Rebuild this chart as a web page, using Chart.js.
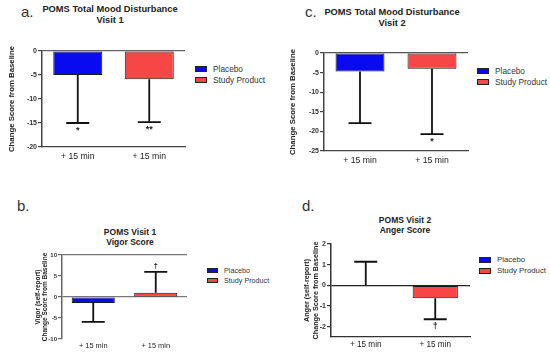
<!DOCTYPE html>
<html lang="en">
<head>
<meta charset="UTF-8" />
<title>POMS change scores</title>
<script src="https://cdn.jsdelivr.net/npm/chart.js"></script>
<style>
  body { margin: 0; width: 550px; height: 355px; background: #fff; position: relative; overflow: hidden;
         font-family: 'Liberation Sans', Arial, sans-serif; color: #222; }
  canvas { position: absolute; }
  .tag { position: absolute; font-size: 15px; line-height: 15px; color: #333; }
  .title { position: absolute; font-weight: bold; text-align: center; white-space: nowrap; color: #222; }
  .legend { position: absolute; white-space: nowrap; color: #333; }
  .legend div { display: flex; align-items: center; }
  .legend span.box { display: inline-block; border: 1px solid #222; box-sizing: border-box; margin-right: 6px; }
</style>
</head>
<body>

<div class="tag" style="left:21px; top:4px;">a.</div>
<div class="tag" style="left:305px; top:4px;">c.</div>
<div class="tag" style="left:17px; top:198px;">b.</div>
<div class="tag" style="left:302px; top:198px;">d.</div>

<div class="title" id="titleA" style="left:30px; width:160px; top:4px; font-size:9.3px; line-height:11px;"></div>
<div class="title" id="titleC" style="left:312px; width:160px; top:7px; font-size:9.3px; line-height:11px;"></div>
<div class="title" id="titleB" style="left:70px; width:120px; top:228px; font-size:8.5px; line-height:9.5px;"></div>
<div class="title" id="titleD" style="left:345px; width:120px; top:215px; font-size:8.5px; line-height:10px;"></div>

<canvas id="chartA"></canvas>
<canvas id="chartC"></canvas>
<canvas id="chartB"></canvas>
<canvas id="chartD"></canvas>

<div class="legend" id="legendA"></div>
<div class="legend" id="legendC"></div>
<div class="legend" id="legendB"></div>
<div class="legend" id="legendD"></div>

<script>
// data
const categories = ['+ 15 min', '+ 15 min'];
const seriesNames = ['Placebo', 'Study Product'];

// a. POMS Total Mood Disturbance, Visit 1
const tmdVisit1 = [-5.0, -5.9];
const tmdVisit1ErrEnd = [-15.0, -14.8];
const tmdVisit1Marks = ['*', '**'];
const tmdVisit1Ticks = [0, -5, -10, -15, -20];

// c. POMS Total Mood Disturbance, Visit 2
const tmdVisit2 = [-4.7, -4.0];
const tmdVisit2ErrEnd = [-17.9, -20.7];
const tmdVisit2Marks = ['', '*'];
const tmdVisit2Ticks = [0, -5, -10, -15, -20, -25];

// b. POMS Visit 1, Vigor Score
const vigorVisit1 = [-1.4, 1.0];
const vigorVisit1ErrEnd = [-5.9, 6.0];
const vigorVisit1Marks = ['', '\u2020'];
const vigorVisit1Ticks = [10, 5, 0, -5, -10];

// d. POMS Visit 2, Anger Score
const angerVisit2 = [0, -0.62];
const angerVisit2ErrEnd = [1.14, -1.64];
const angerVisit2Marks = ['', '\u2020'];
const angerVisit2Ticks = [2, 1, 0, -1, -2];

const seriesColors = ['#0a0af0', '#f64646'];

// one-sided error bars + significance marks
const errorBarPlugin = {
  id: 'errorBars',
  afterDatasetsDraw(chart, args, opts) {
    const { ctx } = chart;
    const y = chart.scales.y;
    ctx.save();
    ctx.strokeStyle = '#111';
    ctx.fillStyle = '#222';
    ctx.lineWidth = 1.8;
    chart.data.datasets.forEach((ds, i) => {
      const bar = chart.getDatasetMeta(i).data[i];
      if (!bar) return;
      const y0 = y.getPixelForValue(ds.data[i]);
      const y1 = y.getPixelForValue(opts.ends[i]);
      const half = opts.cap / 2;
      ctx.beginPath();
      ctx.moveTo(bar.x, y0);
      ctx.lineTo(bar.x, y1);
      ctx.moveTo(bar.x - half, y1);
      ctx.lineTo(bar.x + half, y1);
      ctx.stroke();
      const mark = opts.marks[i];
      if (mark) {
        ctx.font = 'bold ' + opts.markSize + 'px "Liberation Sans", Arial, sans-serif';
        ctx.textAlign = 'center';
        if (opts.ends[i] < ds.data[i]) {
          ctx.textBaseline = 'top';
          ctx.fillText(mark, bar.x, y1 + 3);
        } else {
          ctx.textBaseline = 'bottom';
          ctx.fillText(mark, bar.x, y1 - 2);
        }
      }
    });
    ctx.restore();
  }
};

function buildPanel(p) {
  const cv = document.getElementById(p.id);
  const box = p.canvas;
  const area = p.area;
  cv.width = box.width;
  cv.height = box.height;
  cv.style.left = box.left + 'px';
  cv.style.top = box.top + 'px';

  new Chart(cv, {
    type: 'bar',
    data: {
      labels: categories,
      datasets: seriesNames.map((name, i) => ({
        label: name,
        data: categories.map((_, j) => (j === i ? p.values[i] : null)),
        backgroundColor: seriesColors[i],
        borderColor: '#1a1a1a',
        borderWidth: 1,
        borderSkipped: false,
        grouped: false,
        barPercentage: p.barPct,
        categoryPercentage: 1
      }))
    },
    options: {
      responsive: false,
      animation: false,
      layout: {
        padding: { left: 0, top: area.top - box.top, right: box.left + box.width - area.right, bottom: 0 }
      },
      plugins: {
        legend: { display: false },
        tooltip: { enabled: false },
        errorBars: { ends: p.errEnds, marks: p.marks, cap: 23, markSize: p.markSize }
      },
      scales: {
        x: {
          grid: { display: false, drawTicks: false },
          border: { display: p.bottomLine, color: p.axisColor, width: 1.2 },
          ticks: {
            color: '#222', padding: p.xPad,
            font: { size: p.xFont, family: "'Liberation Sans', Arial, sans-serif" }
          },
          afterFit: s => { s.height = box.top + box.height - area.bottom; }
        },
        y: {
          min: p.range[0],
          max: p.range[1],
          afterBuildTicks: s => { s.ticks = p.ticks.map(v => ({ value: v })); },
          afterFit: s => { s.width = area.left - box.left; },
          grid: {
            color: c => (p.lines.includes(c.tick.value) ? p.lineColor : 'rgba(0,0,0,0)'),
            tickColor: p.axisColor,
            tickLength: 4,
            lineWidth: 1.2
          },
          border: { display: true, color: p.axisColor, width: 1.5 },
          ticks: {
            color: '#333', padding: 1,
            font: { size: p.tickFont, weight: 'bold', family: "'Liberation Sans', Arial, sans-serif" }
          },
          title: {
            display: true,
            text: p.yTitle,
            color: '#222',
            padding: { top: p.titlePad, bottom: 0 },
            font: { size: p.yTitleFont, weight: 'bold', lineHeight: p.yTitleLh, family: "'Liberation Sans', Arial, sans-serif" }
          }
        }
      }
    },
    plugins: [errorBarPlugin]
  });

  const lg = document.getElementById(p.legend.id);
  lg.style.left = p.legend.x + 'px';
  lg.style.top = p.legend.y + 'px';
  lg.style.fontSize = p.legend.font + 'px';
  seriesNames.forEach((name, i) => {
    const row = document.createElement('div');
    row.style.height = p.legend.row + 'px';
    row.innerHTML = `<span class="box" style="width:${p.legend.bw}px;height:${p.legend.bh}px;background:${seriesColors[i]}"></span>${name}`;
    lg.appendChild(row);
  });
}

document.getElementById('titleA').innerHTML = 'POMS Total Mood Disturbance<br>Visit 1';
document.getElementById('titleC').innerHTML = 'POMS Total Mood Disturbance<br>Visit 2';
document.getElementById('titleB').innerHTML = 'POMS Visit 1<br>Vigor Score';
document.getElementById('titleD').innerHTML = 'POMS Visit 2<br>Anger Score';

buildPanel({
  id: 'chartA', values: tmdVisit1, errEnds: tmdVisit1ErrEnd, marks: tmdVisit1Marks, ticks: tmdVisit1Ticks,
  range: [-20, 0], lines: [0], lineColor: '#666', axisColor: '#444', bottomLine: true,
  canvas: { left: 0, top: 40, width: 190, height: 125 }, area: { left: 42, top: 51, right: 185, bottom: 147 },
  barPct: 0.685, xFont: 8.7, xPad: 4, tickFont: 7, markSize: 9,
  yTitle: 'Change Score from Baseline', yTitleFont: 7.8, yTitleLh: 1.2, titlePad: 7.3,
  legend: { id: 'legendA', x: 195, y: 63, font: 8.3, row: 11, bw: 12, bh: 6 }
});

buildPanel({
  id: 'chartC', values: tmdVisit2, errEnds: tmdVisit2ErrEnd, marks: tmdVisit2Marks, ticks: tmdVisit2Ticks,
  range: [-25, 0], lines: [0], lineColor: '#555', axisColor: '#444', bottomLine: true,
  canvas: { left: 280, top: 42, width: 195, height: 128 }, area: { left: 324, top: 53, right: 468, bottom: 151 },
  barPct: 0.68, xFont: 8.7, xPad: 4, tickFont: 7, markSize: 9,
  yTitle: 'Change Score from Baseline', yTitleFont: 7.8, yTitleLh: 1.2, titlePad: 8.3,
  legend: { id: 'legendC', x: 477, y: 65, font: 8.3, row: 11, bw: 12, bh: 6 }
});

buildPanel({
  id: 'chartB', values: vigorVisit1, errEnds: vigorVisit1ErrEnd, marks: vigorVisit1Marks, ticks: vigorVisit1Ticks,
  range: [-10, 10], lines: [0, 10], lineColor: '#777', axisColor: '#666', bottomLine: false,
  canvas: { left: 25, top: 245, width: 167, height: 110 }, area: { left: 62, top: 255, right: 187, bottom: 339 },
  barPct: 0.69, xFont: 7.4, xPad: 3, tickFont: 6, markSize: 8,
  yTitle: ['Vigor (self-report)', 'Change Score from Baseline'], yTitleFont: 6.5, yTitleLh: 1.1, titlePad: 9.4,
  legend: { id: 'legendB', x: 207, y: 265, font: 7.2, row: 10, bw: 11, bh: 5 }
});

buildPanel({
  id: 'chartD', values: angerVisit2, errEnds: angerVisit2ErrEnd, marks: angerVisit2Marks, ticks: angerVisit2Ticks,
  range: [-2.5, 2], lines: [0], lineColor: '#222', axisColor: '#333', bottomLine: true,
  canvas: { left: 295, top: 234, width: 180, height: 121 }, area: { left: 331, top: 244, right: 470, bottom: 337 },
  barPct: 0.65, xFont: 8.2, xPad: 3, tickFont: 7, markSize: 9,
  yTitle: ['Anger (self-report)', 'Change Score from Baseline'], yTitleFont: 7.2, yTitleLh: 1.25, titlePad: 7.5,
  legend: { id: 'legendD', x: 479, y: 254, font: 7.8, row: 11, bw: 12, bh: 6 }
});
</script>
</body>
</html>
